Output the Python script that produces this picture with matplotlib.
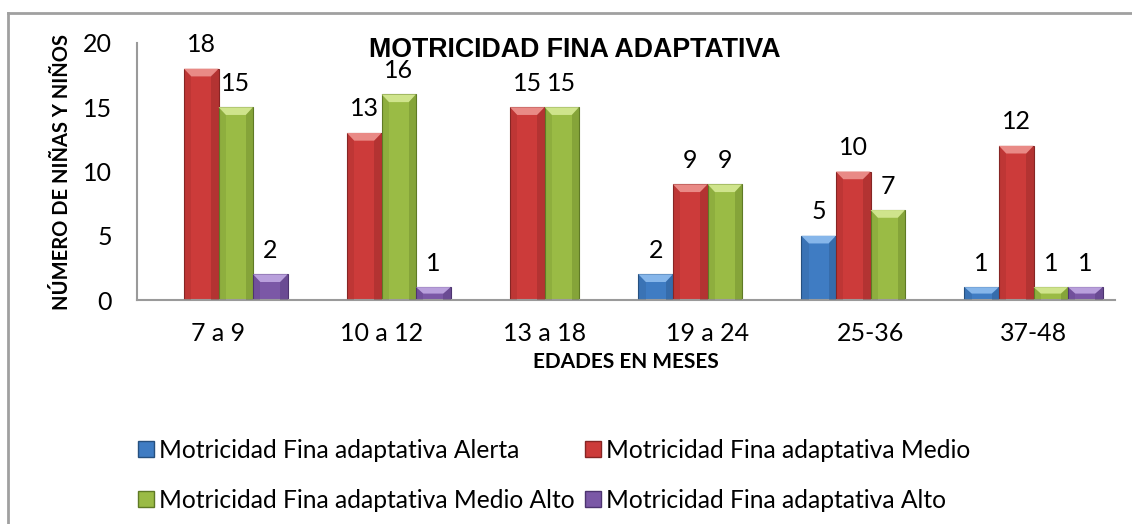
import numpy as np
import matplotlib.pyplot as plt
from matplotlib.patches import Patch, Polygon
from matplotlib.lines import Line2D

edades = ["7 a 9", "10 a 12", "13 a 18", "19 a 24", "25-36", "37-48"]
alerta = [0, 0, 0, 2, 5, 1]
medio = [18, 13, 15, 9, 10, 12]
medio_alto = [15, 16, 15, 9, 7, 1]
alto = [2, 1, 0, 0, 0, 1]

series = [
    ("Motricidad Fina adaptativa Alerta", alerta, "#3f7cc3", "#86b6ea", "#26507f"),
    ("Motricidad Fina adaptativa Medio", medio, "#cc3b3a", "#e98a86", "#862524"),
    ("Motricidad Fina adaptativa Medio Alto", medio_alto, "#9abb45", "#cfe48c", "#5f7a25"),
    ("Motricidad Fina adaptativa Alto", alto, "#7b58a6", "#b9a0dc", "#4d3470"),
]

fig = plt.figure(figsize=(11.32, 5.24), dpi=100)
W, H = 1132, 524
ax = fig.add_axes([137 / W, 1 - 300 / H, (1115 - 137) / W, (300 - 43) / H])

x = np.arange(len(edades))
bw = 0.212
for i, (name, vals, col, light, dark) in enumerate(series):
    pos = x + (i - 1.5) * bw
    bars = ax.bar(pos, vals, bw, color=col, edgecolor=dark, linewidth=0.8, zorder=2)
    # bisel simple: franja superior clara y laterales mas oscuros
    for b in bars:
        h = b.get_height()
        if h <= 0:
            continue
        x0, w = b.get_x(), b.get_width()
        dx, dy = 0.045, min(0.6, h / 2)
        ax.add_patch(Polygon([(x0, h), (x0 + w, h), (x0 + w - dx, h - dy), (x0 + dx, h - dy)],
                             closed=True, facecolor=light, edgecolor="none", zorder=3))
        ax.add_patch(Polygon([(x0 + w, h), (x0 + w, 0), (x0 + w - dx, 0), (x0 + w - dx, h - dy)],
                             closed=True, facecolor=dark, alpha=0.35, edgecolor="none", zorder=3))
        ax.add_patch(Polygon([(x0, h), (x0, 0), (x0 + dx, 0), (x0 + dx, h - dy)],
                             closed=True, facecolor=dark, alpha=0.2, edgecolor="none", zorder=3))
    ax.bar_label(bars, labels=[str(v) if v else "" for v in vals], padding=9,
                 fontsize=18, family="Lato")

ax.set_xlim(-0.5, len(edades) - 0.5)
ax.set_ylim(0, 20)
ax.set_yticks([0, 5, 10, 15, 20])
ax.set_xticks(x)
ax.set_xticklabels(edades, fontsize=18, family="Lato")
for t in ax.get_yticklabels():
    t.set_fontsize(18)
    t.set_family("Lato")
ax.tick_params(axis="both", length=0)
ax.tick_params(axis="y", pad=18)
ax.tick_params(axis="x", pad=16)
for s in ["top", "right"]:
    ax.spines[s].set_visible(False)
for s in ["left", "bottom"]:
    ax.spines[s].set_color("#9a9a9a")
    ax.spines[s].set_linewidth(1.5)

ax.set_xlabel("EDADES EN MESES", fontsize=15, fontweight="bold", family="Lato")
ax.xaxis.set_label_coords(0.5, -(352 - 300) / 257)
ax.set_ylabel("NÚMERO DE NIÑAS Y NIÑOS", fontsize=14.5, fontweight="bold", family="Lato")
ax.yaxis.set_label_coords(-65 / (1115 - 137), 0.5)

fig.text(575 / W, 1 - 50 / H, "MOTRICIDAD FINA ADAPTATIVA", ha="center", va="center",
         fontsize=19.3, fontweight="bold", family="Liberation Sans")

handles = [Patch(facecolor=s[2], edgecolor=s[4], label=s[0]) for s in series]
order = [0, 2, 1, 3]
leg = fig.legend([handles[k] for k in order], [series[k][0] for k in order],
                 ncol=2, loc="upper left", bbox_to_anchor=(128 / W, 1 - 429 / H),
                 frameon=False, prop={"family": "Lato", "size": 17.7},
                 handlelength=0.65, handleheight=0.65, handletextpad=0.2,
                 columnspacing=0.45, labelspacing=1.1, borderaxespad=0)

fig.add_artist(Line2D([8 / W, 1], [1 - 13 / H, 1 - 13 / H], color="#a0a0a0", lw=2))
fig.add_artist(Line2D([8 / W, 8 / W], [1 - 13 / H, 0], color="#a0a0a0", lw=2))

fig.savefig("out.png", dpi=100)
